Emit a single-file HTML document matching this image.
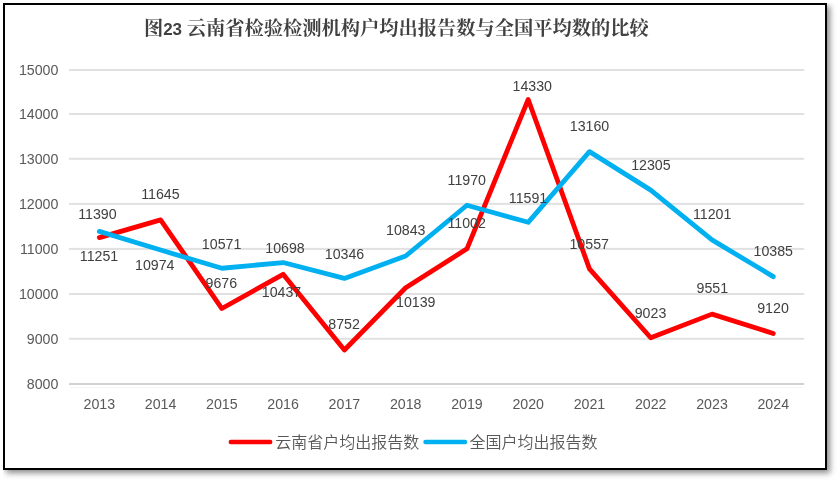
<!DOCTYPE html>
<html lang="zh-CN">
<head>
<meta charset="utf-8">
<title>图23 云南省检验检测机构户均出报告数与全国平均数的比较</title>
<style>
html,body{margin:0;padding:0;background:#fff;}
body{width:838px;height:481px;position:relative;overflow:hidden;font-family:"Liberation Sans","Noto Sans CJK SC",sans-serif;}
#frame{position:absolute;left:3px;top:3px;width:820px;height:463px;border:2px solid #000;background:#fff;box-shadow:3px 3px 6px rgba(0,0,0,0.46);clip-path:inset(0 -20px -20px 0);}
svg{position:absolute;left:0;top:0;}
.num{font-family:"Liberation Sans",sans-serif;font-size:14.2px;fill:#404040;}
.ax{font-family:"Liberation Sans",sans-serif;font-size:14.2px;fill:#595959;}
.ttl{font-family:"Liberation Sans","Noto Serif CJK SC",serif;font-weight:bold;font-size:19.25px;fill:#404040;}
.lg{font-family:"Liberation Sans","Noto Sans CJK SC",sans-serif;font-weight:350;font-size:16px;fill:#595959;}
</style>
</head>
<body>
<div id="frame"></div>
<svg width="838" height="481" viewBox="0 0 838 481">

<g fill="#e1e1e1">
<rect x="69.0" y="383.00" width="735.20" height="2" fill="#d2d2d2"/>
<rect x="69.0" y="337.80" width="735.20" height="2"/>
<rect x="69.0" y="293.00" width="735.20" height="2"/>
<rect x="69.0" y="247.90" width="735.20" height="2"/>
<rect x="69.0" y="202.90" width="735.20" height="2"/>
<rect x="69.0" y="157.80" width="735.20" height="2"/>
<rect x="69.0" y="113.00" width="735.20" height="2"/>
<rect x="69.0" y="69.00" width="735.20" height="2"/>
<rect x="71" y="387" width="733.20" height="1" fill="#f6f6f6"/>
</g>
<g class="ax" text-anchor="end">
<text x="58.4" y="388.78">8000</text>
<text x="58.4" y="343.58">9000</text>
<text x="58.4" y="298.78">10000</text>
<text x="58.4" y="253.68">11000</text>
<text x="58.4" y="208.68">12000</text>
<text x="58.4" y="163.58">13000</text>
<text x="58.4" y="118.78">14000</text>
<text x="58.4" y="74.78">15000</text>
</g>
<g class="ax" text-anchor="middle">
<text x="99.33" y="409.28">2013</text>
<text x="160.60" y="409.28">2014</text>
<text x="221.87" y="409.28">2015</text>
<text x="283.13" y="409.28">2016</text>
<text x="344.40" y="409.28">2017</text>
<text x="405.67" y="409.28">2018</text>
<text x="466.93" y="409.28">2019</text>
<text x="528.20" y="409.28">2020</text>
<text x="589.47" y="409.28">2021</text>
<text x="650.73" y="409.28">2022</text>
<text x="712.00" y="409.28">2023</text>
<text x="773.27" y="409.28">2024</text>
</g>
<polyline points="99.33,237.61 160.60,219.88 221.87,308.52 283.13,274.29 344.40,350.01 405.67,287.73 466.93,248.81 528.20,99.48 589.47,268.88 650.73,337.77 712.00,314.12 773.27,333.42" fill="none" stroke="#ff0000" stroke-width="4.8" stroke-linejoin="round" stroke-linecap="round"/>
<polyline points="99.33,231.35 160.60,250.07 221.87,268.25 283.13,262.52 344.40,278.40 405.67,255.98 466.93,205.25 528.20,222.31 589.47,151.63 650.73,190.14 712.00,239.85 773.27,276.64" fill="none" stroke="#00b0f0" stroke-width="4.8" stroke-linejoin="round" stroke-linecap="round"/>
<g class="num" text-anchor="middle">
<text x="99" y="261.38">11251</text>
<text x="160.4" y="199.08">11645</text>
<text x="221.3" y="287.88">9676</text>
<text x="281.5" y="297.28">10437</text>
<text x="344.1" y="329.38">8752</text>
<text x="415.8" y="307.28">10139</text>
<text x="466.7" y="228.48">11002</text>
<text x="532.3" y="91.08">14330</text>
<text x="589.2" y="248.58">10557</text>
<text x="650.5" y="317.58">9023</text>
<text x="712.3" y="293.48">9551</text>
<text x="773" y="313.28">9120</text>
<text x="97.4" y="219.48">11390</text>
<text x="154.8" y="269.58">10974</text>
<text x="221.6" y="248.58">10571</text>
<text x="285.0" y="252.78">10698</text>
<text x="344.5" y="258.58">10346</text>
<text x="405.8" y="235.28">10843</text>
<text x="466.8" y="185.18">11970</text>
<text x="528.0" y="202.58">11591</text>
<text x="589.5" y="131.28">13160</text>
<text x="650.9" y="170.18">12305</text>
<text x="712.2" y="219.38">11201</text>
<text x="773.3" y="255.78">10385</text>
</g>
<text class="ttl" x="143.9" y="35.2">图<tspan font-size="17px">23 </tspan>云南省检验检测机构户均出报告数与全国平均数的比较</text>
<line x1="230.8" y1="442" x2="270.2" y2="442" stroke="#ff0000" stroke-width="4.5" stroke-linecap="round"/>
<text class="lg" x="275.3" y="447.8">云南省户均出报告数</text>
<line x1="425.5" y1="442" x2="465" y2="442" stroke="#00b0f0" stroke-width="4.5" stroke-linecap="round"/>
<text class="lg" x="469.4" y="447.8">全国户均出报告数</text>
</svg>
</body>
</html>
